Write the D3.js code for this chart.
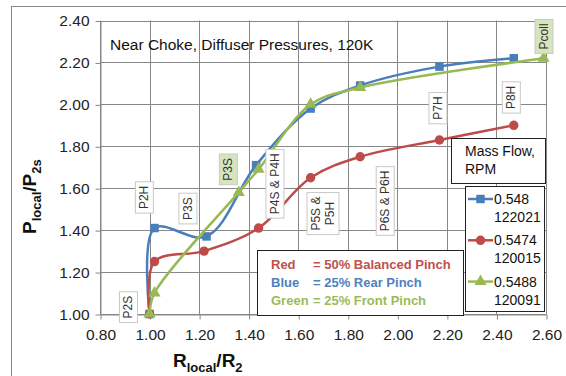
<!DOCTYPE html>
<html>
<head>
<meta charset="utf-8">
<script src="https://cdn.jsdelivr.net/npm/d3@7"></script>
<style>
  body { margin: 0; background: #fff; }
  svg { display: block; font-family: "Liberation Sans", Arial, sans-serif; }
</style>
</head>
<body>
<svg id="chart" width="566" height="376"></svg>
<script>
// tick labels
const xTicks = [0.8, 1.0, 1.2, 1.4, 1.6, 1.8, 2.0, 2.2, 2.4, 2.6];
const yTicks = [1.0, 1.2, 1.4, 1.6, 1.8, 2.0, 2.2, 2.4];

// series: R_local/R_2 vs P_local/P_2s
const rBlue  = [1.00, 1.02, 1.23, 1.43, 1.65, 1.85, 2.17, 2.47];
const pBlue  = [1.00, 1.41, 1.37, 1.71, 1.98, 2.09, 2.18, 2.22];
const rRed   = [1.00, 1.02, 1.22, 1.44, 1.65, 1.85, 2.17, 2.47];
const pRed   = [1.00, 1.25, 1.30, 1.41, 1.65, 1.75, 1.83, 1.90];
const rGreen = [1.00, 1.02, 1.36, 1.44, 1.65, 1.85, 2.59];
const pGreen = [1.00, 1.10, 1.58, 1.69, 2.00, 2.08, 2.22];

const seriesNames = ["0.548", "0.5474", "0.5488"];
const seriesRpm   = ["122021", "120015", "120091"];

// station labels (placed in data units)
const stationText = ["P2S", "P2H", "P3S", "P3S", "P4S & P4H", "P5S &|P5H", "P6S & P6H", "P7H", "P8H", "Pcoll"];
const stationR    = [0.913, 0.977, 1.153, 1.316, 1.504, 1.698, 1.949, 2.162, 2.458, 2.590];
const stationP    = [1.033, 1.556, 1.503, 1.690, 1.621, 1.479, 1.539, 1.982, 2.033, 2.324];
const stationHi   = [false, false, false, true, false, false, false, false, false, true];

const noteNames = ["Red", "Blue", "Green"];
const noteText  = ["= 50% Balanced Pinch", "= 25% Rear Pinch", "= 25% Front Pinch"];

const colors = ["#4a7ebb", "#be4b48", "#98b954"];
const noteColors = ["#c0504d", "#4f81bd", "#9bbb59"];
const gridColor = "#878787";

const svg = d3.select("#chart");

// outer chart frame
svg.append("rect")
  .attr("x", 11.5).attr("y", 6.5)
  .attr("width", 600).attr("height", 400)
  .attr("fill", "none").attr("stroke", gridColor);

const x = d3.scaleLinear().domain([0.8, 2.6]).range([100, 546]);
const y = d3.scaleLinear().domain([1.0, 2.4]).range([314, 20.5]);

// grid
svg.append("g").selectAll("line").data(xTicks).join("line")
  .attr("x1", d => Math.round(x(d)) + 0.5).attr("x2", d => Math.round(x(d)) + 0.5)
  .attr("y1", y(2.4)).attr("y2", y(1.0))
  .attr("stroke", gridColor);
svg.append("g").selectAll("line").data(yTicks).join("line")
  .attr("y1", d => Math.round(y(d)) + 0.5).attr("y2", d => Math.round(y(d)) + 0.5)
  .attr("x1", x(0.8)).attr("x2", x(2.6))
  .attr("stroke", gridColor);

// axes
const xAxis = svg.append("g")
  .attr("transform", `translate(0.5,${Math.round(y(1.0)) + 0.5})`)
  .call(d3.axisBottom(x).tickValues(xTicks).tickFormat(d3.format(".2f")).tickSize(5).tickSizeOuter(0));
const yAxis = svg.append("g")
  .attr("transform", `translate(${Math.round(x(0.8)) + 0.5},0.5)`)
  .call(d3.axisLeft(y).tickValues(yTicks).tickFormat(d3.format(".2f")).tickSize(5).tickSizeOuter(0));
[xAxis, yAxis].forEach(a => {
  a.selectAll("path, line").attr("stroke", gridColor);
  a.selectAll("text").attr("fill", "#222").style("font-size", "15.5px")
    .style("font-family", "'Liberation Sans', Arial, sans-serif");
});
xAxis.selectAll("text").attr("dy", "1.05em").attr("y", 9);
yAxis.selectAll("text").attr("x", -11);

// title
svg.append("text")
  .attr("x", 110).attr("y", 50)
  .style("font-size", "15.5px").attr("fill", "#111")
  .text("Near Choke, Diffuser Pressures, 120K");

// axis titles
const xt = svg.append("text").attr("x", 173).attr("y", 367)
  .style("font-size", "19px").style("font-weight", "bold").attr("fill", "#111");
xt.append("tspan").text("R");
xt.append("tspan").attr("dy", 5).style("font-size", "13px").text("local");
xt.append("tspan").attr("dy", -5).text("/R");
xt.append("tspan").attr("dy", 5).style("font-size", "13px").text("2");

const yt = svg.append("text")
  .attr("transform", "translate(36,234) rotate(-90)")
  .style("font-size", "19px").style("font-weight", "bold").attr("fill", "#111");
yt.append("tspan").text("P");
yt.append("tspan").attr("dy", 5).style("font-size", "13px").text("local");
yt.append("tspan").attr("dy", -5).text("/P");
yt.append("tspan").attr("dy", 5).style("font-size", "13px").text("2s");

// series
const series = [
  { r: rBlue, p: pBlue, shape: d3.symbolSquare, size: 72 },
  { r: rRed, p: pRed, shape: d3.symbolCircle, size: 70 },
  { r: rGreen, p: pGreen, shape: d3.symbolTriangle, size: 64 }
];
const line = d3.line()
  .x(d => x(d[0])).y(d => y(d[1]))
  .curve(d3.curveCatmullRom.alpha(0.5));

series.forEach((s, i) => {
  const pts = s.r.map((r, j) => [r, s.p[j]]);
  svg.append("path").datum(pts)
    .attr("d", line)
    .attr("fill", "none").attr("stroke", colors[i]).attr("stroke-width", 2.5);
  svg.append("g").selectAll("path").data(pts).join("path")
    .attr("transform", d => `translate(${x(d[0])},${y(d[1])})`)
    .attr("d", d3.symbol(s.shape, s.size))
    .attr("fill", colors[i]);
});

// station labels
stationText.forEach((t, i) => {
  const g = svg.append("g")
    .attr("transform", `translate(${x(stationR[i])},${y(stationP[i])}) rotate(-90)`);
  const rect = g.append("rect");
  const txt = g.append("text").attr("text-anchor", "middle")
    .style("font-size", "12px").attr("fill", "#333");
  const lines = t.split("|");
  lines.forEach((l, k) => {
    txt.append("tspan").attr("x", 0)
      .attr("y", (k - (lines.length - 1) / 2) * 14 + 4.5)
      .text(l);
  });
  const bb = txt.node().getBBox();
  rect.attr("x", bb.x - 4).attr("y", bb.y - 2)
    .attr("width", bb.width + 8).attr("height", bb.height + 4)
    .attr("fill", stationHi[i] ? "#d7e4bd" : "#fff")
    .attr("stroke", "#c8c8c8");
});

// note box
svg.append("rect")
  .attr("x", 257.5).attr("y", 250.5).attr("width", 206).attr("height", 65)
  .attr("fill", "#fff").attr("stroke", "#222");
noteNames.forEach((n, i) => {
  const yy = 269 + i * 18;
  svg.append("text").attr("x", 271).attr("y", yy)
    .style("font-size", "13px").style("font-weight", "bold")
    .attr("fill", noteColors[i]).text(n);
  svg.append("text").attr("x", 313).attr("y", yy)
    .style("font-size", "13px").style("font-weight", "bold")
    .attr("fill", noteColors[i]).text(noteText[i]);
});

// legend title box
svg.append("rect")
  .attr("x", 451.5).attr("y", 138.5).attr("width", 94).attr("height", 45)
  .attr("fill", "#fff").attr("stroke", "#222");
svg.append("text").attr("x", 465).attr("y", 156)
  .style("font-size", "14px").attr("fill", "#111").text("Mass Flow,");
svg.append("text").attr("x", 465).attr("y", 174)
  .style("font-size", "14px").attr("fill", "#111").text("RPM");

// legend
svg.append("rect")
  .attr("x", 465.5).attr("y", 186.5).attr("width", 79).attr("height", 125)
  .attr("fill", "#fff").attr("stroke", "#222");
seriesNames.forEach((n, i) => {
  const yy = 199 + i * 41.3;
  svg.append("line").attr("x1", 468).attr("x2", 493).attr("y1", yy).attr("y2", yy)
    .attr("stroke", colors[i]).attr("stroke-width", 2.5);
  svg.append("path").attr("transform", `translate(480.5,${yy})`)
    .attr("d", d3.symbol(series[i].shape, series[i].size)).attr("fill", colors[i]);
  svg.append("text").attr("x", 494).attr("y", yy + 5)
    .style("font-size", "14px").attr("fill", "#111").text(n);
  svg.append("text").attr("x", 494).attr("y", yy + 23)
    .style("font-size", "14px").attr("fill", "#111").text(seriesRpm[i]);
});
</script>
</body>
</html>
